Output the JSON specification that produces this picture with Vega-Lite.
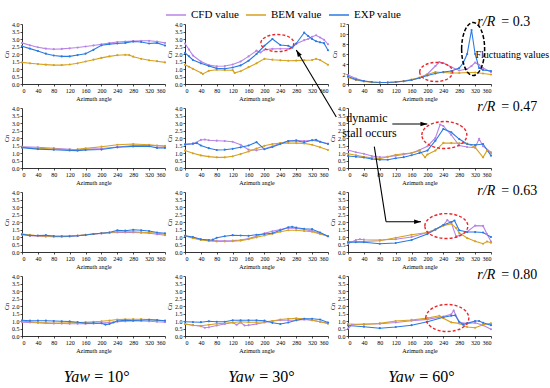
{
"$schema":"https://vega.github.io/schema/vega-lite/v6.json",
"background":"white",
"padding":{"left":3,"top":4,"right":0,"bottom":0},
"config":{"view":{"stroke":null},"font":"Liberation Serif",
 "axis":{"labelFont":"Liberation Serif","labelFontSize":6,"titleFont":"Liberation Serif","titleFontSize":6,"titleFontWeight":"normal","domainColor":"#000","tickColor":"#000","labelColor":"#000","titleColor":"#000","grid":false,"tickSize":2,"labelPadding":1,"titlePadding":2,"domainWidth":0.8,"tickWidth":0.7,"labelOverlap":false},
 "legend":{"orient":"none","legendX":143,"legendY":-20,"direction":"horizontal","labelFont":"Liberation Serif","labelFontSize":11,"labelColor":"#000","symbolType":"stroke","symbolSize":400,"symbolStrokeWidth":1.5,"labelOffset":4,"columnPadding":4}
},
"datasets":{"d":[
{"p":"11","a":0,"c":2.74,"b":1.44,"e":2.52},{"p":"11","a":20,"c":2.58,"b":1.38,"e":2.36},{"p":"11","a":40,"c":2.45,"b":1.33,"e":2.2},{"p":"11","a":60,"c":2.36,"b":1.29,"e":2.02},{"p":"11","a":80,"c":2.32,"b":1.26,"e":1.9},{"p":"11","a":100,"c":2.34,"b":1.26,"e":1.84},{"p":"11","a":120,"c":2.38,"b":1.3,"e":1.84},{"p":"11","a":140,"c":2.43,"b":1.38,"e":1.93},{"p":"11","a":160,"c":2.5,"b":1.5,"e":2.02},{"p":"11","a":180,"c":2.57,"b":1.62,"e":2.28},{"p":"11","a":200,"c":2.65,"b":1.74,"e":2.58},{"p":"11","a":220,"c":2.73,"b":1.84,"e":2.66},{"p":"11","a":240,"c":2.8,"b":1.92,"e":2.7},{"p":"11","a":260,"c":2.83,"b":1.95,"e":2.74},{"p":"11","a":270,"b":1.93},{"p":"11","a":280,"c":2.86,"b":1.82,"e":2.83},{"p":"11","a":300,"c":2.88,"b":1.68,"e":2.8},{"p":"11","a":320,"c":2.88,"b":1.58,"e":2.7},{"p":"11","a":340,"c":2.83,"b":1.52,"e":2.74},{"p":"11","a":360,"c":2.74,"b":1.44,"e":2.56},
{"p":"12","a":0,"c":2.7,"b":1.28,"e":2.07},{"p":"12","a":10,"c":2.3,"b":1.15,"e":1.85},{"p":"12","a":20,"c":1.9,"b":1.01,"e":1.6},{"p":"12","a":40,"c":1.5,"b":0.75,"e":1.38},{"p":"12","a":45,"b":0.67},{"p":"12","a":60,"c":1.26,"b":0.88,"e":1.2},{"p":"12","a":80,"c":1.18,"b":0.95,"e":1.04},{"p":"12","a":100,"c":1.2,"b":0.92,"e":1.02},{"p":"12","a":120,"c":1.3,"b":0.92,"e":1.1},{"p":"12","a":125,"b":0.74},{"p":"12","a":140,"c":1.5,"b":0.85,"e":1.24},{"p":"12","a":160,"c":1.84,"b":1.12,"e":1.55},{"p":"12","a":180,"c":2.22,"b":1.38,"e":2.0},{"p":"12","a":190,"c":2.1},{"p":"12","a":200,"c":2.28,"b":1.68,"e":2.55},{"p":"12","a":220,"c":2.34,"b":1.62,"e":3.0},{"p":"12","a":240,"c":2.35,"b":1.58,"e":2.6},{"p":"12","a":260,"c":2.35,"b":1.55,"e":2.55},{"p":"12","a":270,"c":2.45,"e":2.42},{"p":"12","a":280,"c":2.68,"b":1.56,"e":2.7},{"p":"12","a":300,"c":2.92,"b":1.58,"e":3.42},{"p":"12","a":310,"c":3.0,"e":3.2},{"p":"12","a":320,"c":3.15,"b":1.6,"e":3.0},{"p":"12","a":330,"c":3.25,"b":1.68,"e":2.85},{"p":"12","a":340,"c":3.1,"b":1.6,"e":2.78},{"p":"12","a":350,"c":2.95,"e":2.72},{"p":"12","a":360,"c":2.65,"b":1.28,"e":2.25},
{"p":"13","a":0,"c":1.8,"b":1.3,"e":1.5},{"p":"13","a":20,"c":1.1,"b":0.8,"e":0.9},{"p":"13","a":40,"c":0.6,"b":0.5,"e":0.6},{"p":"13","a":60,"c":0.4,"b":0.35,"e":0.4},{"p":"13","a":80,"c":0.3,"b":0.3,"e":0.3},{"p":"13","a":100,"c":0.3,"b":0.3,"e":0.3},{"p":"13","a":120,"c":0.4,"b":0.4,"e":0.4},{"p":"13","a":140,"c":0.55,"b":0.6,"e":0.55},{"p":"13","a":160,"c":0.8,"b":0.9,"e":0.8},{"p":"13","a":180,"c":1.2,"b":1.3,"e":1.2},{"p":"13","a":200,"c":2.0,"b":1.9,"e":1.7},{"p":"13","a":220,"c":3.6,"b":2.4,"e":2.1},{"p":"13","a":230,"c":4.4},{"p":"13","a":240,"c":4.2,"b":2.3,"e":2.4},{"p":"13","a":260,"c":3.4,"b":2.2,"e":2.6},{"p":"13","a":280,"c":2.7,"b":2.2,"e":3.2},{"p":"13","a":290,"e":4.2},{"p":"13","a":300,"c":3.0,"b":2.3,"e":6.0},{"p":"13","a":311,"c":3.6,"e":10.8},{"p":"13","a":320,"c":4.3,"b":2.3,"e":6.0},{"p":"13","a":330,"c":3.8,"e":3.2},{"p":"13","a":340,"c":3.2,"b":2.1,"e":2.8},{"p":"13","a":360,"c":2.4,"b":1.9,"e":2.6},
{"p":"21","a":0,"c":1.42,"b":1.38,"e":1.36},{"p":"21","a":40,"c":1.38,"b":1.31,"e":1.26},{"p":"21","a":80,"c":1.32,"b":1.27,"e":1.22},{"p":"21","a":120,"c":1.25,"b":1.22,"e":1.17},{"p":"21","a":140,"c":1.22,"b":1.25,"e":1.16},{"p":"21","a":160,"c":1.24,"b":1.31,"e":1.2},{"p":"21","a":200,"c":1.3,"b":1.42,"e":1.23},{"p":"21","a":240,"c":1.4,"b":1.55,"e":1.38},{"p":"21","a":280,"c":1.5,"b":1.6,"e":1.44},{"p":"21","a":320,"c":1.52,"b":1.55,"e":1.45},{"p":"21","a":340,"c":1.48,"b":1.5,"e":1.34},{"p":"21","a":360,"c":1.45,"b":1.47,"e":1.34},
{"p":"22","a":0,"c":1.56,"b":1.16,"e":1.58},{"p":"22","a":20,"c":1.62,"b":0.98,"e":1.62},{"p":"22","a":30,"e":1.66},{"p":"22","a":40,"c":1.87,"b":0.84,"e":1.5},{"p":"22","a":50,"c":1.9},{"p":"22","a":60,"c":1.85,"b":0.76,"e":1.32},{"p":"22","a":80,"c":1.82,"b":0.71,"e":1.2},{"p":"22","a":100,"c":1.8,"b":0.71,"e":1.22},{"p":"22","a":120,"c":1.75,"b":0.78,"e":1.28},{"p":"22","a":140,"c":1.55,"b":0.93,"e":1.38},{"p":"22","a":160,"c":1.22,"b":1.1,"e":1.5},{"p":"22","a":180,"c":1.18,"b":1.3,"e":1.72},{"p":"22","a":200,"c":1.28,"b":1.48,"e":1.25},{"p":"22","a":220,"c":1.45,"b":1.6,"e":1.4},{"p":"22","a":240,"c":1.65,"b":1.66,"e":1.6},{"p":"22","a":260,"c":1.8,"b":1.67,"e":1.8},{"p":"22","a":280,"c":1.85,"b":1.66,"e":1.82},{"p":"22","a":300,"c":1.8,"b":1.64,"e":1.72},{"p":"22","a":320,"c":1.85,"b":1.55,"e":1.85},{"p":"22","a":330,"e":1.88},{"p":"22","a":340,"c":1.75,"b":1.38,"e":1.75},{"p":"22","a":360,"c":1.62,"b":1.2,"e":1.6},
{"p":"23","a":0,"c":1.2,"b":0.95,"e":0.8},{"p":"23","a":20,"c":1.05,"b":0.85,"e":0.75},{"p":"23","a":40,"c":0.95,"b":0.75,"e":0.7},{"p":"23","a":60,"c":0.8,"b":0.68,"e":0.6},{"p":"23","a":80,"c":0.72,"b":0.62,"e":0.55},{"p":"23","a":100,"c":0.75,"b":0.75,"e":0.55},{"p":"23","a":120,"c":0.82,"b":0.88,"e":0.65},{"p":"23","a":140,"c":0.9,"b":0.95,"e":0.72},{"p":"23","a":160,"c":1.0,"b":1.0,"e":0.85},{"p":"23","a":180,"c":1.2,"b":1.16,"e":1.0},{"p":"23","a":194,"b":0.71},{"p":"23","a":200,"c":1.45,"b":0.9,"e":1.16},{"p":"23","a":220,"c":2.0,"b":1.16,"e":1.82},{"p":"23","a":232,"c":2.9},{"p":"23","a":240,"c":2.8,"b":1.67,"e":2.6},{"p":"23","a":260,"c":2.2,"b":1.66,"e":2.38},{"p":"23","a":280,"c":1.5,"b":1.65,"e":1.93},{"p":"23","a":300,"c":1.4,"b":1.62,"e":1.6},{"p":"23","a":320,"c":1.35,"b":1.38,"e":1.53},{"p":"23","a":330,"c":1.95},{"p":"23","a":340,"c":1.45,"b":0.71,"e":1.6},{"p":"23","a":350,"b":1.16},{"p":"23","a":360,"c":1.05,"b":0.98,"e":0.82},
{"p":"31","a":0,"c":1.15,"b":1.2,"e":1.18},{"p":"31","a":20,"c":1.08,"b":1.15,"e":1.1},{"p":"31","a":40,"c":1.05,"b":1.08,"e":1.1},{"p":"31","a":60,"c":1.03,"b":1.06,"e":1.12},{"p":"31","a":80,"c":1.02,"b":1.05,"e":1.06},{"p":"31","a":100,"c":1.02,"b":1.05,"e":1.05},{"p":"31","a":120,"c":1.04,"b":1.07,"e":1.05},{"p":"31","a":140,"c":1.08,"b":1.1,"e":1.08},{"p":"31","a":160,"c":1.14,"b":1.15,"e":1.13},{"p":"31","a":180,"c":1.2,"b":1.2,"e":1.2},{"p":"31","a":200,"c":1.24,"b":1.25,"e":1.25},{"p":"31","a":220,"c":1.28,"b":1.3,"e":1.3},{"p":"31","a":240,"c":1.3,"b":1.35,"e":1.45},{"p":"31","a":260,"c":1.3,"b":1.35,"e":1.42},{"p":"31","a":280,"c":1.3,"b":1.35,"e":1.48},{"p":"31","a":300,"c":1.28,"b":1.32,"e":1.45},{"p":"31","a":320,"c":1.25,"b":1.3,"e":1.4},{"p":"31","a":340,"c":1.18,"b":1.25,"e":1.3},{"p":"31","a":360,"c":1.12,"b":1.18,"e":1.25},
{"p":"32","a":0,"c":1.08,"b":1.08,"e":1.08},{"p":"32","a":20,"c":0.95,"b":0.92,"e":1.0},{"p":"32","a":40,"c":0.85,"b":0.8,"e":0.85},{"p":"32","a":60,"c":0.78,"b":0.74,"e":0.8},{"p":"32","a":70,"e":0.82},{"p":"32","a":80,"c":0.75,"b":0.7,"e":0.95},{"p":"32","a":100,"c":0.75,"b":0.7,"e":1.05},{"p":"32","a":120,"c":0.76,"b":0.72,"e":1.12},{"p":"32","a":140,"c":0.8,"b":0.76,"e":1.1},{"p":"32","a":160,"c":0.9,"b":0.85,"e":1.08},{"p":"32","a":180,"c":1.05,"b":0.98,"e":1.15},{"p":"32","a":200,"c":1.25,"b":1.1,"e":1.2},{"p":"32","a":220,"c":1.38,"b":1.22,"e":1.25},{"p":"32","a":240,"c":1.5,"b":1.35,"e":1.45},{"p":"32","a":260,"c":1.6,"b":1.45,"e":1.65},{"p":"32","a":270,"e":1.68},{"p":"32","a":280,"c":1.58,"b":1.45,"e":1.62},{"p":"32","a":300,"c":1.5,"b":1.4,"e":1.55},{"p":"32","a":320,"c":1.4,"b":1.35,"e":1.52},{"p":"32","a":340,"c":1.25,"b":1.2,"e":1.3},{"p":"32","a":360,"c":1.05,"b":1.05,"e":1.05},
{"p":"33","a":0,"c":0.55,"b":0.7,"e":0.65},{"p":"33","a":20,"c":0.8,"b":0.7,"e":0.65},{"p":"33","a":30,"c":0.85},{"p":"33","a":40,"c":0.82,"b":0.7,"e":0.65},{"p":"33","a":80,"c":0.8,"b":0.75,"e":0.55},{"p":"33","a":120,"c":0.85,"b":0.95,"e":0.6},{"p":"33","a":160,"c":1.0,"b":1.15,"e":0.8},{"p":"33","a":200,"c":1.3,"b":1.3,"e":1.2},{"p":"33","a":220,"c":1.5,"b":1.5,"e":1.5},{"p":"33","a":240,"c":1.8,"b":1.75,"e":1.8},{"p":"33","a":250,"c":2.12},{"p":"33","a":260,"c":1.95,"b":1.89,"e":2.0},{"p":"33","a":268,"e":2.1},{"p":"33","a":272,"c":1.04,"b":1.6},{"p":"33","a":280,"c":1.1,"b":1.27,"e":1.45},{"p":"33","a":300,"c":1.35,"b":0.93,"e":1.33},{"p":"33","a":320,"c":1.76,"b":0.71,"e":1.33},{"p":"33","a":340,"c":1.74,"b":0.55,"e":1.3},{"p":"33","a":350,"c":1.2,"b":0.7},{"p":"33","a":360,"c":0.7,"b":0.62,"e":1.0},
{"p":"41","a":0,"c":0.92,"b":0.98,"e":1.05},{"p":"41","a":20,"c":0.9,"b":0.95,"e":1.02},{"p":"41","a":40,"c":0.88,"b":0.9,"e":1.02},{"p":"41","a":60,"c":0.86,"b":0.87,"e":1.02},{"p":"41","a":80,"c":0.84,"b":0.85,"e":1.0},{"p":"41","a":100,"c":0.83,"b":0.86,"e":0.98},{"p":"41","a":120,"c":0.82,"b":0.88,"e":0.97},{"p":"41","a":140,"c":0.82,"b":0.9,"e":0.92},{"p":"41","a":160,"c":0.82,"b":0.92,"e":0.86},{"p":"41","a":180,"c":0.83,"b":0.95,"e":0.87},{"p":"41","a":200,"c":0.86,"b":0.98,"e":0.85},{"p":"41","a":210,"e":0.76},{"p":"41","a":220,"c":0.9,"b":1.03,"e":0.8},{"p":"41","a":230,"e":0.9},{"p":"41","a":240,"c":0.95,"b":1.1,"e":1.0},{"p":"41","a":260,"c":0.98,"b":1.11,"e":1.05},{"p":"41","a":280,"c":1.0,"b":1.12,"e":1.03},{"p":"41","a":300,"c":1.0,"b":1.12,"e":1.05},{"p":"41","a":320,"c":0.98,"b":1.1,"e":1.08},{"p":"41","a":340,"c":0.95,"b":1.05,"e":1.06},{"p":"41","a":360,"c":0.92,"b":1.0,"e":1.02},
{"p":"42","a":0,"c":0.8,"b":0.8,"e":0.95},{"p":"42","a":20,"c":0.72,"b":0.72,"e":0.93},{"p":"42","a":40,"c":0.65,"b":0.68,"e":0.92},{"p":"42","a":50,"c":0.55},{"p":"42","a":60,"c":0.58,"b":0.75,"e":0.98},{"p":"42","a":80,"c":0.7,"b":0.82,"e":0.95},{"p":"42","a":100,"c":0.8,"b":0.85,"e":0.95},{"p":"42","a":120,"c":0.9,"b":0.9,"e":1.05},{"p":"42","a":130,"c":0.75},{"p":"42","a":140,"c":0.9,"b":0.95,"e":1.05},{"p":"42","a":150,"c":0.7},{"p":"42","a":160,"c":0.72,"b":0.92,"e":1.05},{"p":"42","a":180,"c":0.8,"b":0.92,"e":1.05},{"p":"42","a":200,"c":0.9,"b":0.95,"e":1.02},{"p":"42","a":220,"c":1.0,"b":1.0,"e":0.88},{"p":"42","a":240,"c":1.05,"b":1.1,"e":0.8},{"p":"42","a":260,"c":1.05,"b":1.15,"e":0.9},{"p":"42","a":280,"c":1.05,"b":1.18,"e":1.05},{"p":"42","a":300,"c":1.1,"b":1.15,"e":1.15},{"p":"42","a":320,"c":1.05,"b":1.05,"e":1.15},{"p":"42","a":340,"c":0.95,"b":0.95,"e":1.1},{"p":"42","a":360,"c":0.85,"b":0.82,"e":0.9},
{"p":"43","a":0,"c":0.5,"b":0.8,"e":0.7},{"p":"43","a":10,"c":0.75},{"p":"43","a":40,"c":0.8,"b":0.77,"e":0.62},{"p":"43","a":80,"c":0.82,"b":0.84,"e":0.52},{"p":"43","a":120,"c":0.9,"b":1.0,"e":0.6},{"p":"43","a":160,"c":1.02,"b":1.07,"e":0.72},{"p":"43","a":200,"c":1.11,"b":1.19,"e":0.95},{"p":"43","a":230,"b":1.35},{"p":"43","a":240,"c":1.3,"b":1.19,"e":1.25},{"p":"43","a":260,"c":1.45,"b":0.91,"e":1.35},{"p":"43","a":266,"c":1.7},{"p":"43","a":270,"e":1.38},{"p":"43","a":280,"c":0.9,"b":0.84,"e":0.95},{"p":"43","a":290,"e":0.77},{"p":"43","a":300,"c":0.84,"b":0.6,"e":0.84},{"p":"43","a":320,"c":0.88,"b":0.55,"e":1.0},{"p":"43","a":330,"e":1.0},{"p":"43","a":340,"c":0.72,"b":0.75,"e":0.88},{"p":"43","a":360,"c":0.45,"b":0.84,"e":0.72}
]},
"bounds":"flush",
"columns":3,
"spacing":{"row":24,"column":20},
"concat":[
 {"width":143,"height":60,"layer":[
  {"data":{"name":"d"},"transform":[{"filter":"datum.p=='11'"},{"fold":["c","b","e"],"as":["s","v"]},{"filter":"isValid(datum.v)"}],
   "mark":{"type":"line","strokeWidth":1.1,"point":{"size":5,"filled":true}},
   "encoding":{"x":{"field":"a","type":"quantitative","scale":{"domain":[0,360]},"axis":{"values":[0,40,80,120,160,200,240,280,320,360],"title":"Azimuth angle"}},
    "y":{"field":"v","type":"quantitative","scale":{"domain":[0,4]},"axis":{"values":[0,0.5,1,1.5,2,2.5,3,3.5,4],"format":".1f","title":"Cn"}},
    "color":{"field":"s","type":"nominal","scale":{"domain":["c","b","e"],"range":["#b784e6","#d6a11e","#2a7ae2"]},"legend":{"title":null,"labelExpr":"datum.label=='c'?'CFD value':datum.label=='b'?'BEM value':'EXP value'"}}}}
 ]},
 {"width":143,"height":60,
  "encoding":{"x":{"type":"quantitative","scale":{"domain":[0,360]},"axis":{"values":[0,40,80,120,160,200,240,280,320,360],"title":"Azimuth angle"}},"y":{"type":"quantitative","scale":{"domain":[0,4]},"axis":{"values":[0,0.5,1,1.5,2,2.5,3,3.5,4],"format":".1f","title":"Cn"}}},
  "layer":[
  {"data":{"name":"d"},"transform":[{"filter":"datum.p=='12'"},{"fold":["c","b","e"],"as":["s","v"]},{"filter":"isValid(datum.v)"}],
   "mark":{"type":"line","strokeWidth":1.1,"point":{"size":5,"filled":true}},
   "encoding":{"x":{"field":"a","type":"quantitative","scale":{"domain":[0,360]},"axis":{"values":[0,40,80,120,160,200,240,280,320,360],"title":"Azimuth angle"}},
    "y":{"field":"v","type":"quantitative","scale":{"domain":[0,4]},"axis":{"values":[0,0.5,1,1.5,2,2.5,3,3.5,4],"format":".1f","title":"Cn"}},
    "color":{"field":"s","type":"nominal","scale":{"domain":["c","b","e"],"range":["#b784e6","#d6a11e","#2a7ae2"]},"legend":{"title":null,"labelExpr":"datum.label=='c'?'CFD value':datum.label=='b'?'BEM value':'EXP value'"}}}},
  {"data":{"values":[{}]},"mark":{"type":"point","shape":"M-1,0C-1,-0.287 -0.552,-0.52 0,-0.52C0.552,-0.52 1,-0.287 1,0C1,0.287 0.552,0.52 0,0.52C-0.552,0.52 -1,0.287 -1,0Z","size":1089,"filled":false,"stroke":"#e8262a","strokeWidth":1.4,"strokeDash":[3,2],"opacity":1},
   "encoding":{"x":{"datum":232.5,"scale":{"domain":[0,360]},"axis":{"values":[0,40,80,120,160,200,240,280,320,360],"title":"Azimuth angle"}},"y":{"datum":2.73,"scale":{"domain":[0,4]},"axis":{"values":[0,0.5,1,1.5,2,2.5,3,3.5,4],"format":".1f","title":"Cn"}}}},
  {"data":{"values":[{}]},"mark":{"type":"rule","color":"#000","strokeWidth":1.1},
   "encoding":{"x":{"datum":380.9,"scale":{"domain":[0,360]},"axis":{"values":[0,40,80,120,160,200,240,280,320,360],"title":"Azimuth angle"}},"y":{"datum":-2.2,"scale":{"domain":[0,4]},"axis":{"values":[0,0.5,1,1.5,2,2.5,3,3.5,4],"format":".1f","title":"Cn"}},"x2":{"datum":280.2},"y2":{"datum":2.27}}},
  {"data":{"values":[{}]},"mark":{"type":"point","shape":"M0,0L1,3L-1,3Z","size":21,"filled":true,"color":"#000","opacity":1,"angle":329},
   "encoding":{"x":{"datum":280.2,"scale":{"domain":[0,360]},"axis":{"values":[0,40,80,120,160,200,240,280,320,360],"title":"Azimuth angle"}},"y":{"datum":2.27,"scale":{"domain":[0,4]},"axis":{"values":[0,0.5,1,1.5,2,2.5,3,3.5,4],"format":".1f","title":"Cn"}}}}
 ]},
 {"width":143,"height":60,"layer":[
  {"data":{"name":"d"},"transform":[{"filter":"datum.p=='13'"},{"fold":["c","b","e"],"as":["s","v"]},{"filter":"isValid(datum.v)"}],
   "mark":{"type":"line","strokeWidth":1.1,"point":{"size":5,"filled":true}},
   "encoding":{"x":{"field":"a","type":"quantitative","scale":{"domain":[0,360]},"axis":{"values":[0,40,80,120,160,200,240,280,320,360],"title":"Azimuth angle"}},
    "y":{"field":"v","type":"quantitative","scale":{"domain":[0,12]},"axis":{"values":[0,2,4,6,8,10,12],"format":"d","title":"Cn"}},
    "color":{"field":"s","type":"nominal","scale":{"domain":["c","b","e"],"range":["#b784e6","#d6a11e","#2a7ae2"]},"legend":{"title":null,"labelExpr":"datum.label=='c'?'CFD value':datum.label=='b'?'BEM value':'EXP value'"}}}},
  {"data":{"values":[{}]},"mark":{"type":"point","shape":"M-1,0C-1,-0.32 -0.552,-0.58 0,-0.58C0.552,-0.58 1,-0.32 1,0C1,0.32 0.552,0.58 0,0.58C-0.552,0.58 -1,0.32 -1,0Z","size":1089,"filled":false,"stroke":"#e8262a","strokeWidth":1.4,"strokeDash":[3,2],"opacity":1},
   "encoding":{"x":{"datum":222,"scale":{"domain":[0,360]},"axis":{"values":[0,40,80,120,160,200,240,280,320,360],"title":"Azimuth angle"}},"y":{"datum":2.4,"scale":{"domain":[0,12]},"axis":{"values":[0,2,4,6,8,10,12],"format":"d","title":"Cn"}}}},
  {"data":{"values":[{}]},"mark":{"type":"point","shape":"M-0.434,0C-0.434,-0.552 -0.24,-1 0,-1C0.24,-1 0.434,-0.552 0.434,0C0.434,0.552 0.24,1 0,1C-0.24,1 -0.434,0.552 -0.434,0Z","size":2809,"filled":false,"stroke":"#000","strokeWidth":1.5,"strokeDash":[4,2],"opacity":1},
   "encoding":{"x":{"datum":315,"scale":{"domain":[0,360]},"axis":{"values":[0,40,80,120,160,200,240,280,320,360],"title":"Azimuth angle"}},"y":{"datum":7.0,"scale":{"domain":[0,12]},"axis":{"values":[0,2,4,6,8,10,12],"format":"d","title":"Cn"}}}},
  {"data":{"values":[{}]},"mark":{"type":"text","text":"Fluctuating values","font":"Liberation Serif","fontSize":10,"align":"left","baseline":"middle","color":"#000"},
   "encoding":{"x":{"datum":321,"scale":{"domain":[0,360]},"axis":{"values":[0,40,80,120,160,200,240,280,320,360],"title":"Azimuth angle"}},"y":{"datum":5.8,"scale":{"domain":[0,12]},"axis":{"values":[0,2,4,6,8,10,12],"format":"d","title":"Cn"}}}},
  {"data":{"values":[{}]},"mark":{"type":"text","text":"r/R","font":"Liberation Serif","fontStyle":"italic","fontSize":14,"align":"left","baseline":"middle","color":"#000"},
   "encoding":{"x":{"datum":325.5,"scale":{"domain":[0,360]},"axis":{"values":[0,40,80,120,160,200,240,280,320,360],"title":"Azimuth angle"}},"y":{"datum":12.4,"scale":{"domain":[0,12]},"axis":{"values":[0,2,4,6,8,10,12],"format":"d","title":"Cn"}}}},
  {"data":{"values":[{}]},"mark":{"type":"text","text":"= 0.3","font":"Liberation Serif","fontSize":14,"align":"left","baseline":"middle","color":"#000"},
   "encoding":{"x":{"datum":386,"scale":{"domain":[0,360]},"axis":{"values":[0,40,80,120,160,200,240,280,320,360],"title":"Azimuth angle"}},"y":{"datum":12.4,"scale":{"domain":[0,12]},"axis":{"values":[0,2,4,6,8,10,12],"format":"d","title":"Cn"}}}}
 ]},
 {"width":143,"height":60,"layer":[
  {"data":{"name":"d"},"transform":[{"filter":"datum.p=='21'"},{"fold":["c","b","e"],"as":["s","v"]},{"filter":"isValid(datum.v)"}],
   "mark":{"type":"line","strokeWidth":1.1,"point":{"size":5,"filled":true}},
   "encoding":{"x":{"field":"a","type":"quantitative","scale":{"domain":[0,360]},"axis":{"values":[0,40,80,120,160,200,240,280,320,360],"title":"Azimuth angle"}},
    "y":{"field":"v","type":"quantitative","scale":{"domain":[0,4]},"axis":{"values":[0,0.5,1,1.5,2,2.5,3,3.5,4],"format":".1f","title":"Cn"}},
    "color":{"field":"s","type":"nominal","scale":{"domain":["c","b","e"],"range":["#b784e6","#d6a11e","#2a7ae2"]},"legend":{"title":null,"labelExpr":"datum.label=='c'?'CFD value':datum.label=='b'?'BEM value':'EXP value'"}}}}
 ]},
 {"width":143,"height":60,"layer":[
  {"data":{"name":"d"},"transform":[{"filter":"datum.p=='22'"},{"fold":["c","b","e"],"as":["s","v"]},{"filter":"isValid(datum.v)"}],
   "mark":{"type":"line","strokeWidth":1.1,"point":{"size":5,"filled":true}},
   "encoding":{"x":{"field":"a","type":"quantitative","scale":{"domain":[0,360]},"axis":{"values":[0,40,80,120,160,200,240,280,320,360],"title":"Azimuth angle"}},
    "y":{"field":"v","type":"quantitative","scale":{"domain":[0,4]},"axis":{"values":[0,0.5,1,1.5,2,2.5,3,3.5,4],"format":".1f","title":"Cn"}},
    "color":{"field":"s","type":"nominal","scale":{"domain":["c","b","e"],"range":["#b784e6","#d6a11e","#2a7ae2"]},"legend":{"title":null,"labelExpr":"datum.label=='c'?'CFD value':datum.label=='b'?'BEM value':'EXP value'"}}}}
 ]},
 {"width":143,"height":60,"layer":[
  {"data":{"name":"d"},"transform":[{"filter":"datum.p=='23'"},{"fold":["c","b","e"],"as":["s","v"]},{"filter":"isValid(datum.v)"}],
   "mark":{"type":"line","strokeWidth":1.1,"point":{"size":5,"filled":true}},
   "encoding":{"x":{"field":"a","type":"quantitative","scale":{"domain":[0,360]},"axis":{"values":[0,40,80,120,160,200,240,280,320,360],"title":"Azimuth angle"}},
    "y":{"field":"v","type":"quantitative","scale":{"domain":[0,4]},"axis":{"values":[0,0.5,1,1.5,2,2.5,3,3.5,4],"format":".1f","title":"Cn"}},
    "color":{"field":"s","type":"nominal","scale":{"domain":["c","b","e"],"range":["#b784e6","#d6a11e","#2a7ae2"]},"legend":{"title":null,"labelExpr":"datum.label=='c'?'CFD value':datum.label=='b'?'BEM value':'EXP value'"}}}},
  {"data":{"values":[{}]},"mark":{"type":"point","shape":"M-1,0C-1,-0.331 -0.552,-0.6 0,-0.6C0.552,-0.6 1,-0.331 1,0C1,0.331 0.552,0.6 0,0.6C-0.552,0.6 -1,0.331 -1,0Z","size":2025,"filled":false,"stroke":"#e8262a","strokeWidth":1.4,"strokeDash":[3,2],"opacity":1},
   "encoding":{"x":{"datum":242.6,"scale":{"domain":[0,360]},"axis":{"values":[0,40,80,120,160,200,240,280,320,360],"title":"Azimuth angle"}},"y":{"datum":2.2,"scale":{"domain":[0,4]},"axis":{"values":[0,0.5,1,1.5,2,2.5,3,3.5,4],"format":".1f","title":"Cn"}}}},
  {"data":{"values":[{}]},"mark":{"type":"text","text":"dynamic","font":"Liberation Serif","fontSize":12,"align":"left","baseline":"middle","color":"#000"},
   "encoding":{"x":{"datum":-4.3,"scale":{"domain":[0,360]},"axis":{"values":[0,40,80,120,160,200,240,280,320,360],"title":"Azimuth angle"}},"y":{"datum":3.33,"scale":{"domain":[0,4]},"axis":{"values":[0,0.5,1,1.5,2,2.5,3,3.5,4],"format":".1f","title":"Cn"}}}},
  {"data":{"values":[{}]},"mark":{"type":"text","text":"stall occurs","font":"Liberation Serif","fontSize":12,"align":"left","baseline":"middle","color":"#000"},
   "encoding":{"x":{"datum":-14.4,"scale":{"domain":[0,360]},"axis":{"values":[0,40,80,120,160,200,240,280,320,360],"title":"Azimuth angle"}},"y":{"datum":2.33,"scale":{"domain":[0,4]},"axis":{"values":[0,0.5,1,1.5,2,2.5,3,3.5,4],"format":".1f","title":"Cn"}}}},
  {"data":{"values":[{}]},"mark":{"type":"rule","color":"#000","strokeWidth":1.1},
   "encoding":{"x":{"datum":111.6,"scale":{"domain":[0,360]},"axis":{"values":[0,40,80,120,160,200,240,280,320,360],"title":"Azimuth angle"}},"y":{"datum":2.93,"scale":{"domain":[0,4]},"axis":{"values":[0,0.5,1,1.5,2,2.5,3,3.5,4],"format":".1f","title":"Cn"}},"x2":{"datum":199.7},"y2":{"datum":2.93}}},
  {"data":{"values":[{}]},"mark":{"type":"point","shape":"M0,0L1,3L-1,3Z","size":21,"filled":true,"color":"#000","opacity":1,"angle":90},
   "encoding":{"x":{"datum":199.7,"scale":{"domain":[0,360]},"axis":{"values":[0,40,80,120,160,200,240,280,320,360],"title":"Azimuth angle"}},"y":{"datum":2.93,"scale":{"domain":[0,4]},"axis":{"values":[0,0.5,1,1.5,2,2.5,3,3.5,4],"format":".1f","title":"Cn"}}}},
  {"data":{"values":[{}]},"mark":{"type":"text","text":"r/R","font":"Liberation Serif","fontStyle":"italic","fontSize":14,"align":"left","baseline":"middle","color":"#000"},
   "encoding":{"x":{"datum":325.5,"scale":{"domain":[0,360]},"axis":{"values":[0,40,80,120,160,200,240,280,320,360],"title":"Azimuth angle"}},"y":{"datum":4.07,"scale":{"domain":[0,4]},"axis":{"values":[0,0.5,1,1.5,2,2.5,3,3.5,4],"format":".1f","title":"Cn"}}}},
  {"data":{"values":[{}]},"mark":{"type":"text","text":"= 0.47","font":"Liberation Serif","fontSize":14,"align":"left","baseline":"middle","color":"#000"},
   "encoding":{"x":{"datum":386,"scale":{"domain":[0,360]},"axis":{"values":[0,40,80,120,160,200,240,280,320,360],"title":"Azimuth angle"}},"y":{"datum":4.07,"scale":{"domain":[0,4]},"axis":{"values":[0,0.5,1,1.5,2,2.5,3,3.5,4],"format":".1f","title":"Cn"}}}}
 ]},
 {"width":143,"height":60,"layer":[
  {"data":{"name":"d"},"transform":[{"filter":"datum.p=='31'"},{"fold":["c","b","e"],"as":["s","v"]},{"filter":"isValid(datum.v)"}],
   "mark":{"type":"line","strokeWidth":1.1,"point":{"size":5,"filled":true}},
   "encoding":{"x":{"field":"a","type":"quantitative","scale":{"domain":[0,360]},"axis":{"values":[0,40,80,120,160,200,240,280,320,360],"title":"Azimuth angle"}},
    "y":{"field":"v","type":"quantitative","scale":{"domain":[0,4]},"axis":{"values":[0,0.5,1,1.5,2,2.5,3,3.5,4],"format":".1f","title":"Cn"}},
    "color":{"field":"s","type":"nominal","scale":{"domain":["c","b","e"],"range":["#b784e6","#d6a11e","#2a7ae2"]},"legend":{"title":null,"labelExpr":"datum.label=='c'?'CFD value':datum.label=='b'?'BEM value':'EXP value'"}}}}
 ]},
 {"width":143,"height":60,"layer":[
  {"data":{"name":"d"},"transform":[{"filter":"datum.p=='32'"},{"fold":["c","b","e"],"as":["s","v"]},{"filter":"isValid(datum.v)"}],
   "mark":{"type":"line","strokeWidth":1.1,"point":{"size":5,"filled":true}},
   "encoding":{"x":{"field":"a","type":"quantitative","scale":{"domain":[0,360]},"axis":{"values":[0,40,80,120,160,200,240,280,320,360],"title":"Azimuth angle"}},
    "y":{"field":"v","type":"quantitative","scale":{"domain":[0,4]},"axis":{"values":[0,0.5,1,1.5,2,2.5,3,3.5,4],"format":".1f","title":"Cn"}},
    "color":{"field":"s","type":"nominal","scale":{"domain":["c","b","e"],"range":["#b784e6","#d6a11e","#2a7ae2"]},"legend":{"title":null,"labelExpr":"datum.label=='c'?'CFD value':datum.label=='b'?'BEM value':'EXP value'"}}}}
 ]},
 {"width":143,"height":60,"layer":[
  {"data":{"name":"d"},"transform":[{"filter":"datum.p=='33'"},{"fold":["c","b","e"],"as":["s","v"]},{"filter":"isValid(datum.v)"}],
   "mark":{"type":"line","strokeWidth":1.1,"point":{"size":5,"filled":true}},
   "encoding":{"x":{"field":"a","type":"quantitative","scale":{"domain":[0,360]},"axis":{"values":[0,40,80,120,160,200,240,280,320,360],"title":"Azimuth angle"}},
    "y":{"field":"v","type":"quantitative","scale":{"domain":[0,4]},"axis":{"values":[0,0.5,1,1.5,2,2.5,3,3.5,4],"format":".1f","title":"Cn"}},
    "color":{"field":"s","type":"nominal","scale":{"domain":["c","b","e"],"range":["#b784e6","#d6a11e","#2a7ae2"]},"legend":{"title":null,"labelExpr":"datum.label=='c'?'CFD value':datum.label=='b'?'BEM value':'EXP value'"}}}},
  {"data":{"values":[{}]},"mark":{"type":"point","shape":"M-1,0C-1,-0.32 -0.552,-0.58 0,-0.58C0.552,-0.58 1,-0.32 1,0C1,0.32 0.552,0.58 0,0.58C-0.552,0.58 -1,0.32 -1,0Z","size":1849,"filled":false,"stroke":"#e8262a","strokeWidth":1.4,"strokeDash":[3,2],"opacity":1},
   "encoding":{"x":{"datum":247.6,"scale":{"domain":[0,360]},"axis":{"values":[0,40,80,120,160,200,240,280,320,360],"title":"Azimuth angle"}},"y":{"datum":1.73,"scale":{"domain":[0,4]},"axis":{"values":[0,0.5,1,1.5,2,2.5,3,3.5,4],"format":".1f","title":"Cn"}}}},
  {"data":{"values":[{}]},"mark":{"type":"rule","color":"#000","strokeWidth":1.1},
   "encoding":{"x":{"datum":66.2,"scale":{"domain":[0,360]},"axis":{"values":[0,40,80,120,160,200,240,280,320,360],"title":"Azimuth angle"}},"y":{"datum":7.02,"scale":{"domain":[0,4]},"axis":{"values":[0,0.5,1,1.5,2,2.5,3,3.5,4],"format":".1f","title":"Cn"}},"x2":{"datum":95.7},"y2":{"datum":2.02}}},
  {"data":{"values":[{}]},"mark":{"type":"rule","color":"#000","strokeWidth":1.1},
   "encoding":{"x":{"datum":95.7,"scale":{"domain":[0,360]},"axis":{"values":[0,40,80,120,160,200,240,280,320,360],"title":"Azimuth angle"}},"y":{"datum":2.02,"scale":{"domain":[0,4]},"axis":{"values":[0,0.5,1,1.5,2,2.5,3,3.5,4],"format":".1f","title":"Cn"}},"x2":{"datum":183.8},"y2":{"datum":2.02}}},
  {"data":{"values":[{}]},"mark":{"type":"point","shape":"M0,0L1,3L-1,3Z","size":21,"filled":true,"color":"#000","opacity":1,"angle":90},
   "encoding":{"x":{"datum":183.8,"scale":{"domain":[0,360]},"axis":{"values":[0,40,80,120,160,200,240,280,320,360],"title":"Azimuth angle"}},"y":{"datum":2.02,"scale":{"domain":[0,4]},"axis":{"values":[0,0.5,1,1.5,2,2.5,3,3.5,4],"format":".1f","title":"Cn"}}}},
  {"data":{"values":[{}]},"mark":{"type":"text","text":"r/R","font":"Liberation Serif","fontStyle":"italic","fontSize":14,"align":"left","baseline":"middle","color":"#000"},
   "encoding":{"x":{"datum":325.5,"scale":{"domain":[0,360]},"axis":{"values":[0,40,80,120,160,200,240,280,320,360],"title":"Azimuth angle"}},"y":{"datum":4.09,"scale":{"domain":[0,4]},"axis":{"values":[0,0.5,1,1.5,2,2.5,3,3.5,4],"format":".1f","title":"Cn"}}}},
  {"data":{"values":[{}]},"mark":{"type":"text","text":"= 0.63","font":"Liberation Serif","fontSize":14,"align":"left","baseline":"middle","color":"#000"},
   "encoding":{"x":{"datum":386,"scale":{"domain":[0,360]},"axis":{"values":[0,40,80,120,160,200,240,280,320,360],"title":"Azimuth angle"}},"y":{"datum":4.09,"scale":{"domain":[0,4]},"axis":{"values":[0,0.5,1,1.5,2,2.5,3,3.5,4],"format":".1f","title":"Cn"}}}}
 ]},
 {"width":143,"height":60,"layer":[
  {"data":{"name":"d"},"transform":[{"filter":"datum.p=='41'"},{"fold":["c","b","e"],"as":["s","v"]},{"filter":"isValid(datum.v)"}],
   "mark":{"type":"line","strokeWidth":1.1,"point":{"size":5,"filled":true}},
   "encoding":{"x":{"field":"a","type":"quantitative","scale":{"domain":[0,360]},"axis":{"values":[0,40,80,120,160,200,240,280,320,360],"title":"Azimuth angle"}},
    "y":{"field":"v","type":"quantitative","scale":{"domain":[0,4]},"axis":{"values":[0,0.5,1,1.5,2,2.5,3,3.5,4],"format":".1f","title":"Cn"}},
    "color":{"field":"s","type":"nominal","scale":{"domain":["c","b","e"],"range":["#b784e6","#d6a11e","#2a7ae2"]},"legend":{"title":null,"labelExpr":"datum.label=='c'?'CFD value':datum.label=='b'?'BEM value':'EXP value'"}}}},
  {"data":{"values":[{}]},"mark":{"type":"text","text":"Yaw","font":"Liberation Serif","fontStyle":"italic","fontSize":16,"align":"right","baseline":"middle","color":"#000"},
   "encoding":{"x":{"datum":171,"scale":{"domain":[0,360]},"axis":{"values":[0,40,80,120,160,200,240,280,320,360],"title":"Azimuth angle"}},"y":{"datum":-2.72,"scale":{"domain":[0,4]},"axis":{"values":[0,0.5,1,1.5,2,2.5,3,3.5,4],"format":".1f","title":"Cn"}}}},
  {"data":{"values":[{}]},"mark":{"type":"text","text":"= 10°","font":"Liberation Serif","fontSize":16,"align":"left","baseline":"middle","color":"#000"},
   "encoding":{"x":{"datum":182,"scale":{"domain":[0,360]},"axis":{"values":[0,40,80,120,160,200,240,280,320,360],"title":"Azimuth angle"}},"y":{"datum":-2.72,"scale":{"domain":[0,4]},"axis":{"values":[0,0.5,1,1.5,2,2.5,3,3.5,4],"format":".1f","title":"Cn"}}}}
 ]},
 {"width":143,"height":60,"layer":[
  {"data":{"name":"d"},"transform":[{"filter":"datum.p=='42'"},{"fold":["c","b","e"],"as":["s","v"]},{"filter":"isValid(datum.v)"}],
   "mark":{"type":"line","strokeWidth":1.1,"point":{"size":5,"filled":true}},
   "encoding":{"x":{"field":"a","type":"quantitative","scale":{"domain":[0,360]},"axis":{"values":[0,40,80,120,160,200,240,280,320,360],"title":"Azimuth angle"}},
    "y":{"field":"v","type":"quantitative","scale":{"domain":[0,4]},"axis":{"values":[0,0.5,1,1.5,2,2.5,3,3.5,4],"format":".1f","title":"Cn"}},
    "color":{"field":"s","type":"nominal","scale":{"domain":["c","b","e"],"range":["#b784e6","#d6a11e","#2a7ae2"]},"legend":{"title":null,"labelExpr":"datum.label=='c'?'CFD value':datum.label=='b'?'BEM value':'EXP value'"}}}},
  {"data":{"values":[{}]},"mark":{"type":"text","text":"Yaw","font":"Liberation Serif","fontStyle":"italic","fontSize":16,"align":"right","baseline":"middle","color":"#000"},
   "encoding":{"x":{"datum":174.5,"scale":{"domain":[0,360]},"axis":{"values":[0,40,80,120,160,200,240,280,320,360],"title":"Azimuth angle"}},"y":{"datum":-2.72,"scale":{"domain":[0,4]},"axis":{"values":[0,0.5,1,1.5,2,2.5,3,3.5,4],"format":".1f","title":"Cn"}}}},
  {"data":{"values":[{}]},"mark":{"type":"text","text":"= 30°","font":"Liberation Serif","fontSize":16,"align":"left","baseline":"middle","color":"#000"},
   "encoding":{"x":{"datum":187,"scale":{"domain":[0,360]},"axis":{"values":[0,40,80,120,160,200,240,280,320,360],"title":"Azimuth angle"}},"y":{"datum":-2.72,"scale":{"domain":[0,4]},"axis":{"values":[0,0.5,1,1.5,2,2.5,3,3.5,4],"format":".1f","title":"Cn"}}}}
 ]},
 {"width":143,"height":60,"layer":[
  {"data":{"name":"d"},"transform":[{"filter":"datum.p=='43'"},{"fold":["c","b","e"],"as":["s","v"]},{"filter":"isValid(datum.v)"}],
   "mark":{"type":"line","strokeWidth":1.1,"point":{"size":5,"filled":true}},
   "encoding":{"x":{"field":"a","type":"quantitative","scale":{"domain":[0,360]},"axis":{"values":[0,40,80,120,160,200,240,280,320,360],"title":"Azimuth angle"}},
    "y":{"field":"v","type":"quantitative","scale":{"domain":[0,4]},"axis":{"values":[0,0.5,1,1.5,2,2.5,3,3.5,4],"format":".1f","title":"Cn"}},
    "color":{"field":"s","type":"nominal","scale":{"domain":["c","b","e"],"range":["#b784e6","#d6a11e","#2a7ae2"]},"legend":{"title":null,"labelExpr":"datum.label=='c'?'CFD value':datum.label=='b'?'BEM value':'EXP value'"}}}},
  {"data":{"values":[{}]},"mark":{"type":"point","shape":"M-1,0C-1,-0.348 -0.552,-0.63 0,-0.63C0.552,-0.63 1,-0.348 1,0C1,0.348 0.552,0.63 0,0.63C-0.552,0.63 -1,0.348 -1,0Z","size":1849,"filled":false,"stroke":"#e8262a","strokeWidth":1.4,"strokeDash":[3,2],"opacity":1},
   "encoding":{"x":{"datum":250,"scale":{"domain":[0,360]},"axis":{"values":[0,40,80,120,160,200,240,280,320,360],"title":"Azimuth angle"}},"y":{"datum":1.2,"scale":{"domain":[0,4]},"axis":{"values":[0,0.5,1,1.5,2,2.5,3,3.5,4],"format":".1f","title":"Cn"}}}},
  {"data":{"values":[{}]},"mark":{"type":"text","text":"r/R","font":"Liberation Serif","fontStyle":"italic","fontSize":14,"align":"left","baseline":"middle","color":"#000"},
   "encoding":{"x":{"datum":325.5,"scale":{"domain":[0,360]},"axis":{"values":[0,40,80,120,160,200,240,280,320,360],"title":"Azimuth angle"}},"y":{"datum":4.07,"scale":{"domain":[0,4]},"axis":{"values":[0,0.5,1,1.5,2,2.5,3,3.5,4],"format":".1f","title":"Cn"}}}},
  {"data":{"values":[{}]},"mark":{"type":"text","text":"= 0.80","font":"Liberation Serif","fontSize":14,"align":"left","baseline":"middle","color":"#000"},
   "encoding":{"x":{"datum":386,"scale":{"domain":[0,360]},"axis":{"values":[0,40,80,120,160,200,240,280,320,360],"title":"Azimuth angle"}},"y":{"datum":4.07,"scale":{"domain":[0,4]},"axis":{"values":[0,0.5,1,1.5,2,2.5,3,3.5,4],"format":".1f","title":"Cn"}}}},
  {"data":{"values":[{}]},"mark":{"type":"text","text":"Yaw","font":"Liberation Serif","fontStyle":"italic","fontSize":16,"align":"right","baseline":"middle","color":"#000"},
   "encoding":{"x":{"datum":167,"scale":{"domain":[0,360]},"axis":{"values":[0,40,80,120,160,200,240,280,320,360],"title":"Azimuth angle"}},"y":{"datum":-2.72,"scale":{"domain":[0,4]},"axis":{"values":[0,0.5,1,1.5,2,2.5,3,3.5,4],"format":".1f","title":"Cn"}}}},
  {"data":{"values":[{}]},"mark":{"type":"text","text":"= 60°","font":"Liberation Serif","fontSize":16,"align":"left","baseline":"middle","color":"#000"},
   "encoding":{"x":{"datum":179.5,"scale":{"domain":[0,360]},"axis":{"values":[0,40,80,120,160,200,240,280,320,360],"title":"Azimuth angle"}},"y":{"datum":-2.72,"scale":{"domain":[0,4]},"axis":{"values":[0,0.5,1,1.5,2,2.5,3,3.5,4],"format":".1f","title":"Cn"}}}}
 ]}
]
}
